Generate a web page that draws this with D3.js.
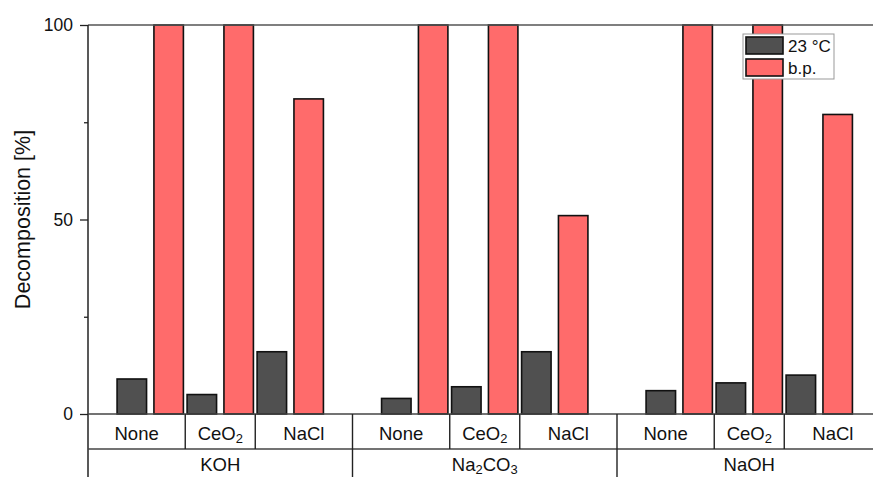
<!DOCTYPE html>
<html>
<head>
<meta charset="utf-8">
<script src="https://cdn.jsdelivr.net/npm/d3@7"></script>
<style>
  body { margin: 0; background: #fff; }
  svg { font-family: Arial, "Liberation Sans", sans-serif; }
</style>
</head>
<body>
<div id="chart"></div>
<script>
// chart data
var groups = ['KOH', 'Na2CO3', 'NaOH'];
var conditions = ['None', 'CeO2', 'NaCl'];
var series = ['23 °C', 'b.p.'];
var roomTemp = [9, 5, 16, 4, 7, 16, 6, 8, 10];
var boilingPoint = [100, 100, 81, 100, 100, 51, 100, 100, 77];
var yTicks = [0, 50, 100];
var yMinorTicks = [25, 75];

var width = 873, height = 477;
var margin = { top: 25, left: 88, bottom: 63 };
var plotBottom = height - margin.bottom; // 414

var svg = d3.select('#chart').append('svg')
    .attr('width', width)
    .attr('height', height);

var y = d3.scaleLinear().domain([0, 100]).range([plotBottom, margin.top]);

// outer scale: one band per base, inner: one band per additive
var xGroup = d3.scaleBand().domain(groups).range([margin.left, margin.left + 3 * 264.5]);
var xCond = d3.scaleBand().domain(conditions).range([0, xGroup.bandwidth()]).paddingOuter(0.389);
var xSeries = d3.scaleBand().domain(series).range([0, xCond.bandwidth()]).paddingInner(0.2).paddingOuter(0.05);

var colors = { '23 °C': '#505050', 'b.p.': '#ff6b6b' };

// flatten into rows
var rows = [];
groups.forEach(function (g, gi) {
    conditions.forEach(function (c, ci) {
        var i = gi * 3 + ci;
        rows.push({ group: g, cond: c, key: '23 °C', value: roomTemp[i] });
        rows.push({ group: g, cond: c, key: 'b.p.', value: boilingPoint[i] });
    });
});

function xOf(d) {
    return xGroup(d.group) + xCond(d.cond) + xSeries(d.key);
}

svg.append('g')
    .selectAll('rect')
    .data(rows)
    .enter()
    .append('rect')
    .attr('x', xOf)
    .attr('y', function (d) { return y(d.value); })
    .attr('width', xSeries.bandwidth())
    .attr('height', function (d) { return plotBottom - y(d.value); })
    .attr('fill', function (d) { return colors[d.key]; })
    .attr('stroke', '#111')
    .attr('stroke-width', 1.6);

// top frame line
svg.append('line')
    .attr('x1', margin.left).attr('x2', width)
    .attr('y1', margin.top).attr('y2', margin.top)
    .attr('stroke', '#555').attr('stroke-width', 1.3);

// y axis
var yAxis = svg.append('g')
    .attr('transform', 'translate(' + margin.left + ',0)')
    .call(d3.axisLeft(y).tickValues(yTicks).tickSize(8).tickPadding(7).tickFormat(d3.format('d')));
yAxis.select('.domain').remove();
yAxis.selectAll('line').attr('stroke', '#222').attr('stroke-width', 1.3);
yAxis.selectAll('text').attr('font-size', 17.5).attr('fill', '#111')
    .attr('font-family', 'Arial, "Liberation Sans", sans-serif');

svg.append('g')
    .attr('transform', 'translate(' + margin.left + ',0)')
    .call(d3.axisLeft(y).tickValues(yMinorTicks).tickSize(4).tickFormat(''))
    .call(function (g) { g.select('.domain').remove(); })
    .selectAll('line').attr('stroke', '#222').attr('stroke-width', 1.3);

svg.append('line')
    .attr('x1', margin.left).attr('x2', margin.left)
    .attr('y1', margin.top).attr('y2', height)
    .attr('stroke', '#222').attr('stroke-width', 1.5);

// baseline + category table
var row1 = plotBottom, row2 = plotBottom + 35;
svg.append('line')
    .attr('x1', margin.left).attr('x2', width)
    .attr('y1', row1).attr('y2', row1)
    .attr('stroke', '#444').attr('stroke-width', 1.5);
svg.append('line')
    .attr('x1', margin.left).attr('x2', width)
    .attr('y1', row2).attr('y2', row2)
    .attr('stroke', '#444').attr('stroke-width', 1.3);

var labelSize = 18.5;
var table = svg.append('g').attr('fill', '#111');

function subText(sel, label, fs) {
    // render digits as subscripts
    var parts = label.match(/[A-Za-z]+|\d+/g);
    parts.forEach(function (p) {
        var t = sel.append('tspan').text(p);
        if (/^\d+$/.test(p)) {
            t.attr('font-size', fs * 0.7).attr('baseline-shift', '-25%');
        }
    });
}

groups.forEach(function (g) {
    var gx = xGroup(g);
    var half = xCond.step() * xCond.paddingInner() / 2;
    conditions.forEach(function (c, ci) {
        // box edges: midpoints between neighbouring bands, group edges at ends
        var left = ci === 0 ? gx : gx + xCond(c) - half;
        var right = ci === conditions.length - 1 ? gx + xGroup.bandwidth()
            : gx + xCond(conditions[ci + 1]) - half;
        var t = table.append('text')
            .attr('x', (left + right) / 2).attr('y', row1 + 26)
            .attr('text-anchor', 'middle')
            .attr('font-size', labelSize);
        subText(t, c, labelSize);
        if (ci > 0) {
            table.append('line')
                .attr('x1', left).attr('x2', left)
                .attr('y1', row1).attr('y2', row2)
                .attr('stroke', '#222').attr('stroke-width', 1.4);
        }
    });
    var gt = table.append('text')
        .attr('x', gx + xGroup.bandwidth() / 2).attr('y', row2 + 22)
        .attr('text-anchor', 'middle')
        .attr('font-size', labelSize);
    subText(gt, g, labelSize);
    var ex = gx + xGroup.bandwidth();
    table.append('line')
        .attr('x1', ex).attr('x2', ex)
        .attr('y1', row1).attr('y2', height)
        .attr('stroke', '#222').attr('stroke-width', 1.4);
});

// y title
svg.append('text')
    .attr('transform', 'translate(30,' + ((margin.top + plotBottom) / 2) + ') rotate(-90)')
    .attr('text-anchor', 'middle')
    .attr('font-size', 21.5)
    .attr('fill', '#111')
    .text('Decomposition [%]');

// legend
var legend = svg.append('g').attr('transform', 'translate(743,34)');
legend.append('rect')
    .attr('width', 91).attr('height', 45)
    .attr('fill', '#fff').attr('stroke', '#999').attr('stroke-width', 1);
series.forEach(function (s, i) {
    legend.append('rect')
        .attr('x', 3).attr('y', 3 + i * 22)
        .attr('width', 37).attr('height', 17)
        .attr('fill', colors[s]).attr('stroke', '#111').attr('stroke-width', 1.6);
    legend.append('text')
        .attr('x', 45).attr('y', 18 + i * 22)
        .attr('font-size', 17).attr('fill', '#111')
        .text(s);
});
</script>
</body>
</html>
